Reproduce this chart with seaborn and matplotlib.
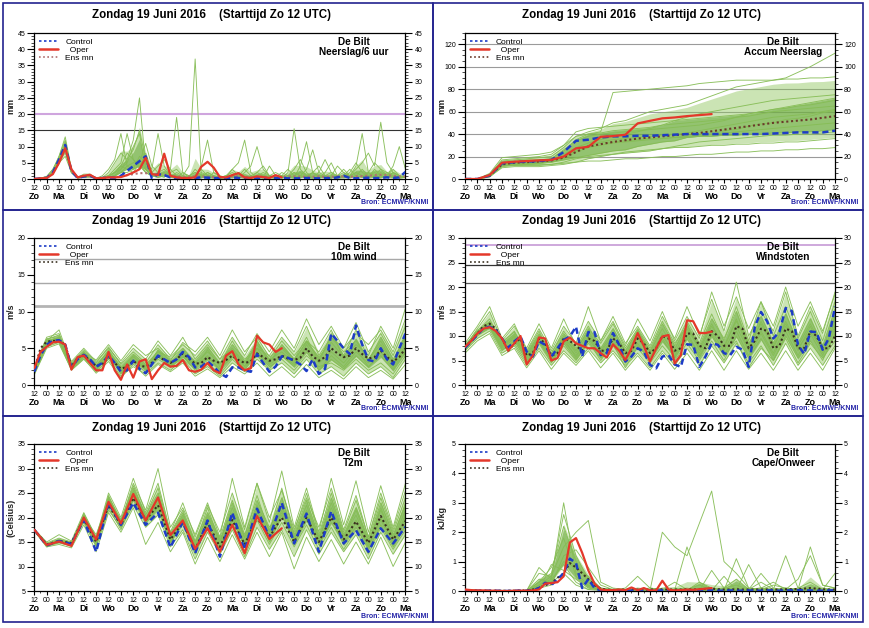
import numpy as np
import pandas as pd
import matplotlib
matplotlib.use("Agg")
import matplotlib.pyplot as plt
import seaborn as sns
from matplotlib.lines import Line2D
from matplotlib.patches import Rectangle
from matplotlib.ticker import MultipleLocator

# ---------------------------------------------------------------- labels
TITLE = "Zondag 19 Juni 2016    (Starttijd Zo 12 UTC)"
HOUR_LABELS = ['12', '00'] * 15 + ['12']
DAY_LABELS = ['Zo', 'Ma', 'Di', 'Wo', 'Do', 'Vr', 'Za', 'Zo',
              'Ma', 'Di', 'Wo', 'Do', 'Vr', 'Za', 'Zo', 'Ma']
LEGEND_LABELS = ['Control', '  Oper', 'Ens mn']
SOURCE = "Bron: ECMWF/KNMI"

# ---------------------------------------------------------------- precipitation per 6 h (6-hourly values)
PRECIP_OPER = [0, 0.2, 0.3, 1.5, 5, 9.5, 3, 0.5, 1.0, 1.3,
               0.2, 0.3, 0.5, 0.5, 0.6, 1.2, 2.0, 3.0, 6.5, 1.5,
               1.2, 7.8, 1.0, 0.5, 0.3, 0.3, 0.5, 3.8, 5.3, 3.5,
               0.6, 0.5, 1.2, 1.8, 0.5, 0.3, 0.8, 0.6, 0.3, 1.2,
               0.5]
PRECIP_CONTROL = [0, 0.2, 0.3, 2, 6, 10.5, 2.5, 0.3, 0.8, 1.0,
                  0.2, 0.3, 0.4, 0.4, 1.0, 2.5, 4, 5.5, 7.0, 0.2,
                  1.5, 1.2, 0.5, 0.3, 0.2, 0.2, 0.3, 0.5, 0.4, 0.3,
                  0.2, 0.2, 0.5, 0.3, 0.2, 0.3, 0.2, 0.3, 0.2, 0.2,
                  0.3, 0.2, 0.2, 0.2, 0.3, 0.2, 0.2, 0.3, 0.2, 0.5,
                  1.0, 0.3, 0.2, 0.3, 0.4, 0.3, 0.3, 0.5, 0.3, 0.5,
                  2.2]
PRECIP_ENSMN = [0, 0.2, 0.5, 2, 5, 9.5, 2.5, 0.5, 0.8, 0.9,
                0.3, 0.3, 0.5, 0.6, 0.8, 1.2, 1.5, 1.8, 1.8, 1.6,
                1.5, 1.3, 1.0, 0.8, 0.7, 0.7, 0.8, 0.8, 0.7, 0.6,
                0.6, 0.6, 0.8, 0.8, 0.7, 0.6, 0.7, 0.7, 0.6, 0.6,
                0.7, 0.8, 0.8, 0.7, 0.7, 0.7, 0.8, 0.7, 0.7, 0.8,
                0.8, 0.7, 0.8, 0.9, 1.0, 1.2, 1.3, 1.2, 1.0, 0.8,
                0.8]
PRECIP_MEMBERS = [
    [0, 0.3, 0.5, 2, 6, 11, 3, 0.5, 1, 1.2,
     0.2, 0.3, 0.5, 1, 2, 4, 5, 6, 3, 1,
     2, 3, 1, 0.5, 1, 4, 37, 1, 0.5, 1,
     0.5, 0.3, 1, 2, 0.5, 0.3, 1, 0.5, 0.3, 0.5,
     1, 0.5, 2, 1, 0.5, 0.3, 0.5, 1, 2, 0.5,
     0.3, 0.5, 1, 0.5, 0.3, 0.5, 2, 1, 0.5, 0.3,
     0.5],
    [0, 0.2, 0.8, 3, 7, 12, 2, 0.3, 0.8, 1,
     0.3, 0.5, 1, 2, 3, 6, 12, 25, 4, 1.5,
     1, 2, 0.5, 0.3, 0.5, 1, 2, 1, 0.5, 0.3,
     0.2, 0.5, 3, 1, 0.5, 0.3, 2, 4, 1, 0.5,
     0.3, 1, 3, 6, 2, 0.5, 0.3, 1, 0.5, 0.3,
     1, 3, 1, 0.5, 2, 5, 3, 1, 4, 10,
     3],
    [0, 0.1, 0.4, 1.5, 5, 9, 2.5, 0.5, 1.5, 1.5,
     0.3, 0.4, 2, 5, 8, 6, 9, 15, 6, 2,
     4, 6, 3, 19, 2, 0.5, 1, 3, 1, 0.5,
     0.3, 0.5, 1, 0.5, 0.3, 1, 0.5, 0.3, 1, 2,
     1, 0.5, 0.3, 1, 0.5, 2, 4, 1, 0.5, 0.3,
     0.5, 1, 2, 1, 0.5, 1, 3, 2, 1, 0.5,
     1],
    [0, 0.2, 0.6, 2.5, 7, 13, 3, 0.4, 1, 1,
     0.2, 1, 3, 6, 14, 4, 3, 7, 5, 3,
     14, 4, 1, 0.5, 0.3, 1, 2, 0.5, 0.3, 2,
     1, 0.5, 0.3, 1, 3, 1, 0.5, 0.3, 4, 1,
     0.5, 0.3, 1, 2, 1, 0.5, 0.3, 2, 5, 1,
     0.5, 0.3, 1, 3, 1, 0.5, 0.3, 1, 0.5, 1,
     0.5],
    [0, 0.2, 0.5, 2, 5.5, 10, 2, 0.5, 0.8, 0.8,
     0.2, 0.3, 1, 3, 5, 14, 6, 3, 8, 2,
     1, 0.5, 3, 1, 0.5, 0.5, 1, 4, 12, 2,
     0.5, 1, 2, 1, 0.5, 0.3, 1, 2, 1, 0.5,
     1, 3, 1, 0.5, 1, 2, 0.5, 0.3, 1, 4,
     2, 0.5, 1, 0.5, 1, 2, 1, 0.5, 0.3, 0.5,
     1],
    [0, 0.2, 0.5, 2, 6, 8, 2, 0.3, 0.5, 0.7,
     0.1, 0.2, 0.5, 1, 2, 3, 4, 5, 2, 1,
     0.5, 1, 2, 3, 1, 0.5, 0.3, 1, 2, 1,
     0.5, 1, 3, 5, 12, 2, 0.5, 1, 0.5, 0.3,
     0.5, 1, 2, 1, 3, 9, 2, 1, 0.5, 0.3,
     0.5, 1, 2, 1, 0.5, 3, 1, 0.5, 2, 1,
     0.5],
    [0, 0.3, 0.7, 3, 6.5, 10, 2.5, 0.5, 1, 1,
     0.2, 0.3, 0.8, 2, 4, 8, 6, 4, 3, 1,
     2, 1, 0.5, 2, 1, 0.5, 1, 0.5, 2, 1,
     0.5, 0.3, 1, 0.5, 2, 4, 10, 3, 1, 0.5,
     0.3, 2, 15.5, 3, 1, 0.5, 0.3, 1, 0.5, 1,
     3, 1, 0.5, 1, 2, 1, 0.5, 1, 3, 1,
     0.5],
    [0, 0.2, 0.4, 1.8, 5, 9, 2, 0.3, 0.6, 0.6,
     0.2, 0.3, 0.5, 1, 3, 5, 10, 14, 3, 1,
     0.5, 1, 0.5, 0.3, 2, 1, 0.5, 0.3, 1, 0.5,
     0.3, 1, 0.5, 2, 1, 0.5, 0.3, 0.5, 1, 0.5,
     2, 1, 0.5, 4, 11.5, 2, 1, 0.5, 0.3, 1,
     0.5, 2, 5, 2, 1, 0.5, 1, 2, 0.5, 0.3,
     0.5],
    [0, 0.2, 0.6, 2.2, 6, 11.5, 3, 0.5, 1, 1,
     0.3, 0.5, 1, 2, 4, 3, 2, 5, 11, 4,
     2, 1, 0.5, 1, 0.5, 0.3, 1, 2, 1, 0.5,
     0.3, 0.5, 1, 0.5, 0.3, 1, 2, 1, 0.5, 0.3,
     0.5, 1, 0.5, 0.3, 1, 0.5, 2, 6, 2, 1,
     0.5, 1, 3, 5, 8, 4, 17.5, 5, 2, 1,
     0.5],
    [0, 0.2, 0.5, 2, 5, 7, 2, 0.4, 0.8, 0.9,
     0.2, 0.3, 0.5, 1, 2, 2, 3, 4, 2, 1,
     1, 2, 1, 0.5, 0.3, 0.5, 3, 1, 0.5, 0.3,
     0.5, 0.3, 0.5, 1, 0.5, 0.3, 0.5, 1, 0.5, 0.3,
     1, 0.5, 0.3, 1, 0.5, 0.3, 1, 0.5, 0.3, 1,
     2, 1, 4, 14, 2, 1, 0.5, 1, 2, 1,
     0.5],
]

# ---------------------------------------------------------------- accumulated precipitation (12-hourly)
ACCUM_OPER = [0, 0, 3.5, 14.5, 15.4, 16, 16.6, 17, 20, 27.3, 28.7, 37.6, 38.2,
              39.4, 49.5, 51.8, 54, 54.8, 56, 56.9, 57.8]
ACCUM_CONTROL = [0, 0, 3, 14, 15, 15.5, 16, 17, 24, 34, 35, 37, 38, 38, 38.5,
                 38.5, 39, 39.5, 40, 40, 40, 40, 40, 40, 40, 40.5, 41, 41.5,
                 41.5, 41.5, 43]
ACCUM_ENSMN = [0, 0, 3, 13, 14.5, 15, 15.5, 16.5, 19, 24, 29, 31, 33, 34.5, 36,
               37, 38, 39, 40, 41, 42.5, 44, 45.5, 47, 48.5, 50, 51, 52, 53,
               54.5, 56]
ACCUM_MEMBERS = [
    [0, 0, 4, 16, 17, 18, 19, 20, 28, 38, 42, 45, 50, 52, 56, 60, 62, 64, 66, 70, 74, 78, 82, 84, 86, 88, 90, 95, 100, 106, 112],
    [0, 0, 3, 14, 15, 16, 17, 18, 25, 35, 40, 42, 77, 78, 79, 80, 81, 82, 83, 85, 86, 87, 88, 88, 88, 88, 89, 89, 90, 90, 91],
    [0, 0, 5, 19, 20, 21, 22, 24, 30, 38, 40, 41, 43, 44, 45, 46, 48, 49, 50, 51, 52, 53, 55, 56, 58, 60, 61, 62, 63, 64, 65],
    [0, 0, 3, 13, 14, 14, 15, 16, 22, 28, 32, 35, 38, 40, 42, 45, 48, 52, 55, 58, 60, 62, 64, 66, 68, 70, 71, 72, 73, 74, 75],
    [0, 0, 2, 12, 13, 13, 14, 15, 18, 24, 28, 30, 32, 33, 34, 35, 36, 37, 38, 39, 40, 41, 42, 43, 44, 45, 46, 47, 48, 49, 50],
    [0, 0, 4, 15, 16, 17, 17, 18, 26, 34, 38, 40, 41, 42, 43, 44, 45, 46, 47, 48, 50, 52, 55, 58, 60, 62, 63, 65, 66, 68, 70],
    [0, 0, 2, 11, 12, 12, 12, 13, 15, 18, 20, 21, 22, 24, 25, 26, 27, 28, 28, 29, 30, 30, 31, 31, 32, 32, 33, 33, 34, 35, 36],
    [0, 0, 3, 13, 13, 14, 14, 15, 17, 19, 21, 23, 25, 26, 29, 31, 33, 34, 37, 38, 40, 43, 44, 47, 49, 50, 53, 54, 56, 59, 61],
    [0, 0, 3, 12, 12, 13, 13, 13, 14, 15, 16, 16, 17, 18, 18, 19, 20, 20, 21, 22, 22, 23, 24, 24, 25, 25, 26, 26, 27, 27, 28],
    [0, 0, 4, 17, 18, 19, 20, 22, 30, 42, 45, 46, 47, 48, 49, 50, 51, 52, 53, 54, 55, 56, 57, 58, 60, 62, 64, 66, 68, 70, 72],
    [0, 0, 3, 14, 15, 15, 16, 17, 20, 26, 30, 33, 35, 36, 37, 38, 39, 40, 41, 43, 45, 47, 49, 51, 53, 55, 56, 57, 58, 60, 62],
    [0, 0, 2, 10, 11, 11, 11, 12, 13, 15, 18, 20, 22, 23, 24, 25, 27, 29, 31, 33, 34, 35, 36, 37, 38, 39, 39, 40, 40, 41, 42],
    [0, 0, 3, 14, 15, 15, 16, 16, 19, 25, 30, 32, 33, 34, 35, 36, 36, 37, 37, 38, 38, 39, 39, 40, 40, 41, 41, 42, 42, 43, 44],
]

# ---------------------------------------------------------------- 10 m wind (main 6-hourly, members 12-hourly)
WIND_OPER = [2.3, 4.5, 5.2, 5.8, 5.9, 5.5, 2.1, 3.8, 4.0, 3.0,
             2.0, 2.0, 4.5, 2.0, 0.7, 2.8, 1.0, 3.2, 3.5, 0.8,
             2.0, 3.0, 2.5, 2.6, 3.4, 2.0, 1.8, 2.1, 3.0, 2.0,
             1.6, 4.0, 4.6, 2.8, 2.0, 2.3, 6.7, 5.8, 5.5, 4.5,
             5.0]
WIND_CONTROL = [1.8, 4.0, 5.5, 6.0, 6.1, 5.5, 2.4, 3.5, 4.1, 3.5,
                2.5, 3.0, 4.0, 3.0, 1.8, 2.0, 3.3, 2.2, 1.6, 2.8,
                4.0, 3.5, 3.0, 3.5, 4.5, 3.8, 2.4, 2.5, 3.2, 2.5,
                1.6, 1.1, 2.4, 2.4, 2.0, 1.8, 4.2, 3.0, 1.8, 2.5,
                3.9, 3.7, 3.3, 2.8, 1.9, 3.5, 1.5, 2.2, 7.0, 6.0,
                5.0, 4.2, 8.1, 5.5, 3.4, 3.2, 5.0, 3.5, 2.8, 5.0,
                7.0]
WIND_ENSMN = [2, 5, 5.9, 6, 6, 5.5, 2.5, 3.7, 4.1, 3.3,
              2.6, 2.8, 3.8, 3.0, 2.2, 2.5, 3.3, 2.6, 2.5, 3.0,
              3.9, 3.4, 3.0, 3.5, 4.3, 3.6, 2.9, 3.0, 3.8, 3.3,
              3.0, 3.4, 4.0, 3.4, 3.0, 3.2, 4.3, 3.8, 3.3, 3.5,
              4.0, 3.6, 3.4, 3.7, 5.0, 3.9, 3.3, 3.8, 5.0, 4.3,
              3.8, 4.0, 5.0, 4.2, 3.6, 3.8, 4.7, 3.8, 3.2, 3.8,
              5.0]
WIND_MEMBERS = [
    [2.0, 6.0, 6.5, 2.5, 4.5, 2.5, 4.8, 2.0, 3.5, 2.5, 4.0, 3.0, 4.5, 2.5, 4.0, 2.0, 5.0, 2.5, 6.0, 3.0, 5.5, 3.5, 6.5, 3.0, 7.0, 4.0, 7.5, 3.5, 6.0, 3.0, 6.0],
    [1.5, 5.5, 6.0, 2.2, 3.8, 2.0, 4.0, 1.5, 3.0, 1.8, 3.5, 2.5, 4.0, 2.0, 3.0, 1.5, 3.5, 2.0, 4.5, 2.5, 3.5, 2.0, 4.0, 2.5, 3.0, 2.0, 3.5, 2.0, 3.0, 1.5, 4.0],
    [2.5, 6.5, 7.0, 3.0, 4.8, 3.0, 5.2, 2.8, 4.5, 3.0, 5.5, 3.5, 5.0, 3.0, 4.5, 3.0, 5.5, 3.5, 5.0, 4.0, 6.5, 4.5, 8.0, 4.0, 6.5, 5.0, 8.5, 4.5, 7.0, 4.0, 8.0],
    [1.8, 5.8, 6.2, 2.6, 4.2, 2.8, 4.5, 2.2, 4.0, 2.0, 4.8, 3.2, 4.2, 2.8, 3.5, 3.0, 4.5, 3.0, 5.5, 3.5, 4.5, 3.0, 5.0, 2.0, 4.0, 2.5, 4.5, 3.0, 5.0, 2.5, 5.5],
    [2.2, 6.2, 6.8, 3.2, 5.0, 3.2, 5.0, 3.0, 5.0, 3.5, 6.0, 4.0, 6.5, 3.5, 5.5, 3.5, 6.5, 4.0, 7.0, 4.5, 7.5, 5.0, 9.0, 5.5, 8.0, 5.0, 7.0, 5.5, 7.5, 4.5, 9.0],
    [1.6, 5.2, 5.8, 2.0, 3.5, 1.8, 3.5, 1.2, 2.5, 1.5, 3.0, 2.0, 3.5, 1.5, 2.5, 1.2, 3.0, 1.8, 3.5, 2.0, 3.0, 1.5, 3.5, 1.5, 2.5, 1.2, 3.0, 1.5, 2.5, 1.0, 3.5],
    [2.0, 6.0, 7.5, 2.8, 4.6, 2.6, 4.6, 2.5, 4.2, 2.8, 4.5, 3.8, 5.5, 4.0, 6.0, 3.5, 5.0, 3.0, 4.0, 3.5, 6.0, 4.0, 6.0, 3.5, 6.5, 4.5, 6.0, 3.5, 5.5, 3.0, 7.0],
    [1.7, 5.6, 6.0, 2.4, 4.0, 2.4, 4.2, 1.8, 3.2, 2.2, 3.8, 2.8, 3.5, 2.2, 4.8, 2.5, 4.0, 2.2, 5.0, 2.8, 4.0, 2.5, 5.5, 3.0, 4.5, 3.0, 5.0, 2.5, 4.0, 2.0, 4.5],
    [2.3, 6.3, 6.6, 2.9, 4.4, 3.4, 5.5, 3.3, 5.5, 4.0, 5.0, 3.3, 5.8, 4.5, 6.5, 4.0, 7.5, 4.5, 6.5, 3.8, 5.0, 3.2, 6.0, 4.5, 7.5, 3.5, 5.5, 4.0, 8.0, 5.0, 10.5],
    [1.9, 5.9, 6.4, 2.3, 3.9, 2.2, 3.8, 2.0, 3.8, 2.6, 4.2, 2.4, 3.8, 2.6, 3.8, 2.2, 3.8, 2.6, 4.0, 2.2, 4.0, 2.8, 4.5, 2.0, 3.5, 2.2, 4.0, 2.4, 4.5, 2.2, 5.0],
    [2.1, 6.1, 6.3, 2.7, 4.3, 2.0, 4.4, 1.6, 3.4, 2.4, 4.6, 2.6, 4.6, 3.2, 5.2, 2.8, 6.0, 3.2, 6.0, 3.0, 5.2, 3.5, 5.8, 3.8, 5.8, 3.8, 6.2, 3.2, 6.5, 3.5, 6.5],
    [1.4, 5.0, 5.6, 2.1, 3.6, 1.6, 3.2, 1.0, 2.8, 1.2, 2.8, 1.8, 3.0, 1.2, 2.2, 1.0, 2.5, 1.5, 3.0, 1.2, 2.5, 1.0, 2.8, 1.0, 2.0, 0.8, 2.5, 1.0, 2.0, 0.8, 2.8],
]

# ---------------------------------------------------------------- wind gusts
GUST_OPER = [7.8, 9.0, 10.5, 11.5, 11.8, 11.0, 9.5, 7.0, 8.5, 10.0,
             4.2, 6.0, 9.7, 9.5, 5.0, 5.5, 8.9, 9.7, 8.5, 8.0,
             7.5, 7.5, 6.5, 5.6, 8.3, 7.0, 5.1, 7.5, 10.6, 8.0,
             4.8, 7.5, 9.9, 10.2, 4.4, 6.1, 13.2, 13.0, 10.6, 10.6,
             10.9]
GUST_CONTROL = [7.6, 8.9, 10.2, 11.6, 11.9, 11.2, 9.5, 7.6, 8.9, 9.9,
                6.8, 5.8, 8.9, 8.2, 5.8, 7.5, 9.2, 9.9, 11.9, 5.8,
                10.8, 10.8, 6.1, 6.5, 10.6, 8.2, 4.8, 5.8, 7.5, 6.8,
                4.1, 3.4, 5.8, 6.1, 4.2, 3.7, 8.3, 8.2, 3.7, 5.8,
                8.5, 8.2, 6.5, 6.1, 7.8, 7.2, 3.7, 11.9, 14.9, 13.0,
                9.5, 10.9, 15.7, 15.1, 8.2, 6.3, 10.9, 10.8, 7.2, 9.5,
                16.0]
GUST_ENSMN = [7.8, 9, 10.5, 12, 12.5, 11.5, 9.5, 7.0, 8.5, 9.5,
              6.0, 6.5, 9.5, 8.5, 6.0, 6.5, 9.5, 9.0, 8.0, 7.0,
              9.5, 9.0, 7.0, 7.0, 9.5, 8.5, 6.5, 7.0, 9.5, 8.5,
              6.5, 7.5, 10.0, 9.5, 7.0, 7.5, 10.5, 10.5, 8.0, 7.5,
              11.0, 10.0, 8.0, 8.0, 12.0, 11.5, 7.5, 9.0, 11.5, 11.0,
              7.5, 8.0, 11.5, 11.0, 7.5, 7.5, 11.0, 10.0, 7.5, 7.5,
              10.0]
GUST_MEMBERS = [
    [7.5, 10.5, 12.0, 7.5, 9.5, 5.5, 9.0, 5.0, 9.0, 6.0, 9.5, 6.0, 9.0, 5.0, 8.5, 5.0, 9.0, 6.0, 10.0, 6.5, 11.0, 7.0, 12.0, 7.0, 13.0, 8.0, 12.5, 7.5, 11.0, 7.0, 12.0],
    [8.0, 11.0, 13.5, 8.5, 11.0, 6.5, 10.5, 6.5, 11.0, 7.5, 12.0, 7.5, 11.5, 7.0, 11.0, 7.0, 12.5, 8.0, 13.0, 8.5, 14.5, 9.0, 16.0, 9.0, 17.0, 10.0, 16.0, 9.5, 15.0, 9.0, 17.0],
    [7.0, 9.5, 11.0, 6.5, 8.0, 4.0, 7.5, 4.0, 7.0, 4.5, 7.5, 4.5, 7.0, 4.0, 6.5, 3.5, 7.0, 4.0, 7.5, 4.0, 8.0, 4.5, 8.5, 4.5, 8.0, 4.0, 8.5, 4.0, 7.5, 4.0, 8.0],
    [8.2, 10.8, 12.5, 8.0, 10.0, 6.0, 9.8, 5.8, 10.0, 6.5, 10.5, 6.8, 10.0, 6.2, 10.5, 6.5, 10.0, 6.5, 11.5, 7.5, 12.5, 7.5, 13.5, 7.0, 11.0, 6.5, 12.0, 7.0, 12.0, 6.5, 13.0],
    [7.8, 11.5, 15.0, 9.0, 12.0, 7.5, 12.5, 7.5, 13.5, 8.0, 13.0, 9.0, 14.0, 8.5, 12.0, 8.0, 14.0, 9.5, 16.0, 10.0, 17.5, 11.0, 21.0, 10.0, 15.0, 11.0, 19.0, 10.0, 16.0, 10.5, 19.0],
    [7.3, 10.2, 11.5, 7.0, 9.0, 5.0, 8.5, 4.5, 8.0, 5.0, 8.5, 5.5, 8.0, 4.5, 7.5, 4.5, 8.0, 5.0, 8.5, 5.0, 9.0, 5.0, 10.0, 5.5, 9.5, 5.0, 10.0, 5.5, 9.0, 5.0, 10.5],
    [8.0, 11.2, 12.8, 8.8, 10.8, 6.8, 11.0, 6.0, 9.5, 7.0, 11.5, 8.5, 12.5, 7.5, 11.5, 7.5, 13.0, 8.5, 12.0, 8.0, 13.5, 9.5, 15.0, 8.0, 14.0, 8.5, 14.5, 8.5, 13.5, 8.0, 15.5],
    [7.6, 10.6, 12.2, 7.8, 9.8, 5.8, 9.2, 5.4, 9.6, 5.6, 10.0, 6.2, 9.5, 5.6, 9.8, 5.6, 10.5, 5.8, 10.8, 6.0, 10.0, 6.0, 11.0, 6.0, 10.5, 6.0, 11.0, 6.0, 10.5, 6.0, 11.5],
    [8.5, 12.0, 16.0, 9.5, 12.5, 7.0, 11.5, 7.0, 12.0, 8.5, 16.0, 9.0, 13.0, 8.0, 13.5, 9.0, 15.0, 9.0, 14.0, 9.5, 19.0, 12.0, 18.0, 11.5, 17.0, 12.0, 20.0, 12.0, 17.0, 11.0, 18.5],
    [7.2, 10.0, 11.8, 7.2, 8.5, 4.5, 8.8, 4.8, 8.5, 5.2, 9.0, 5.0, 8.5, 3.5, 8.0, 5.5, 9.5, 5.5, 9.5, 5.5, 10.5, 6.0, 9.0, 3.5, 7.5, 5.0, 9.5, 4.5, 8.5, 5.5, 9.0],
    [7.9, 10.9, 13.0, 8.3, 10.3, 6.3, 10.2, 6.5, 10.5, 7.2, 11.0, 7.0, 10.8, 6.8, 11.2, 6.8, 11.5, 7.2, 12.5, 7.0, 12.0, 8.0, 13.0, 8.5, 12.5, 7.5, 13.0, 8.0, 12.5, 7.5, 14.0],
    [6.5, 9.0, 10.5, 6.0, 7.5, 3.5, 7.0, 3.2, 6.5, 4.0, 7.0, 3.5, 6.5, 3.0, 6.0, 3.0, 6.5, 3.2, 6.5, 3.0, 7.0, 3.0, 7.0, 3.2, 6.5, 3.0, 7.0, 3.0, 6.5, 3.0, 7.5],
]

# ---------------------------------------------------------------- 2 m temperature (12-hourly)
T2M_OPER = [17.5, 14.4, 15.1, 14.2, 20.0, 15.5, 23.2, 18.8, 24.8, 19.4, 24.1,
            16.4, 19.4, 13.6, 17.8, 13.0, 18.5, 12.7, 20.3, 15.6, 17.8]
T2M_CONTROL = [17.5, 14.3, 15.2, 14.6, 19.5, 13.0, 23.0, 18.5, 23.0, 18.5,
               21.0, 13.9, 19.1, 12.7, 19.4, 12.0, 21.0, 13.4, 21.8, 15.9,
               23.0, 14.7, 20.8, 13.0, 21.3, 14.7, 17.4, 13.0, 17.8, 14.7,
               18.1]
T2M_ENSMN = [17.5, 14.5, 15.2, 14.8, 19.8, 15.0, 22.5, 18.5, 24.0, 19.5,
             22.5, 15.5, 19.0, 13.5, 19.0, 14.0, 19.5, 14.5, 20.0, 16.0,
             20.0, 15.0, 20.0, 15.0, 20.0, 15.5, 19.2, 14.8, 20.3, 15.5,
             19.3]
T2M_MEMBERS = [
    [17.5, 14.0, 15.5, 14.5, 20.5, 15.5, 24.5, 19.0, 26.5, 20.5, 25.0, 16.5, 21.0, 14.5, 22.0, 15.0, 23.0, 16.0, 24.5, 17.0, 26.0, 16.5, 23.5, 16.0, 24.0, 16.5, 22.0, 15.5, 23.0, 16.5, 22.5],
    [17.3, 14.6, 15.0, 15.0, 19.0, 14.0, 21.5, 18.0, 22.5, 18.0, 20.5, 14.0, 17.5, 11.5, 17.0, 12.5, 17.5, 12.0, 18.0, 13.5, 17.5, 12.0, 17.5, 12.5, 17.0, 13.0, 16.5, 11.5, 17.0, 12.5, 16.5],
    [17.6, 15.0, 16.5, 15.2, 21.0, 16.0, 25.0, 20.0, 28.0, 21.0, 27.0, 17.0, 23.0, 16.0, 22.5, 17.0, 25.0, 17.5, 27.0, 19.0, 29.5, 18.0, 26.0, 17.0, 28.0, 18.5, 27.5, 17.0, 26.5, 18.0, 27.0],
    [17.4, 14.2, 14.8, 14.2, 19.5, 15.0, 22.5, 18.5, 24.0, 19.0, 22.0, 15.0, 18.5, 13.0, 18.0, 14.0, 19.5, 14.5, 20.5, 15.5, 21.5, 14.5, 21.0, 14.5, 20.5, 14.5, 19.0, 14.0, 20.0, 15.0, 20.5],
    [17.5, 14.8, 15.8, 15.0, 20.0, 16.5, 23.5, 19.5, 25.5, 20.0, 24.0, 16.0, 20.5, 15.0, 20.0, 15.5, 21.0, 15.0, 22.0, 16.5, 22.5, 16.0, 22.5, 15.5, 23.0, 16.0, 21.5, 15.0, 21.5, 16.0, 23.0],
    [17.2, 14.0, 14.5, 13.8, 18.5, 13.0, 21.0, 17.0, 22.0, 14.5, 19.0, 13.0, 17.0, 10.5, 16.0, 11.0, 16.5, 11.5, 17.0, 12.0, 17.0, 9.5, 16.0, 11.0, 15.5, 10.5, 15.0, 10.5, 16.0, 10.0, 15.0],
    [17.6, 14.4, 15.3, 14.6, 20.8, 15.8, 24.0, 19.2, 27.0, 21.5, 30.0, 18.0, 22.0, 16.5, 23.0, 16.0, 28.0, 18.0, 27.0, 20.0, 25.5, 17.5, 24.0, 18.0, 26.0, 17.5, 24.5, 16.0, 25.0, 17.5, 25.5],
    [17.4, 14.5, 15.0, 14.5, 19.8, 14.5, 23.0, 18.0, 24.5, 19.5, 23.0, 15.5, 19.5, 14.0, 19.0, 13.5, 20.0, 14.0, 21.0, 15.0, 20.5, 15.0, 19.5, 14.5, 19.0, 15.0, 18.0, 13.5, 18.5, 14.0, 18.5],
    [17.5, 14.7, 15.6, 14.9, 20.2, 15.2, 23.8, 19.0, 25.0, 19.8, 23.5, 16.2, 20.0, 14.2, 20.5, 14.8, 22.0, 15.8, 22.5, 17.5, 24.0, 15.5, 21.5, 15.8, 22.0, 16.2, 20.5, 14.5, 22.0, 15.5, 21.5],
    [17.3, 14.3, 14.9, 14.4, 19.2, 14.2, 22.0, 17.5, 23.5, 18.8, 21.5, 14.8, 18.8, 12.5, 18.5, 13.0, 19.0, 13.2, 19.5, 14.5, 19.0, 14.0, 18.5, 13.5, 18.0, 13.5, 17.5, 12.5, 18.0, 13.5, 17.5],
    [17.5, 14.6, 15.4, 14.8, 20.4, 15.6, 24.2, 19.6, 26.0, 20.5, 26.0, 16.8, 21.5, 15.2, 21.0, 15.8, 23.5, 16.5, 23.5, 18.0, 22.0, 17.0, 25.0, 16.5, 25.0, 17.0, 23.5, 16.0, 24.0, 17.0, 24.0],
    [17.4, 14.4, 15.1, 14.3, 19.6, 14.8, 22.8, 18.2, 24.2, 19.2, 22.5, 15.2, 19.2, 13.5, 18.8, 14.2, 20.5, 14.8, 21.5, 15.8, 21.0, 15.5, 20.5, 15.0, 21.0, 15.5, 19.5, 14.0, 19.5, 14.5, 19.8],
]

# ---------------------------------------------------------------- CAPE (main 6-hourly, members 12-hourly)
CAPE_OPER = [0.05, 0.03, 0.02, 0.02, 0.01, 0.01, 0.0, 0.0, 0.01, 0.01,
             0.01, 0.02, 0.05, 0.25, 0.27, 0.3, 0.5, 1.65, 1.8, 1.3,
             0.7, 0.25, 0.05, 0.03, 0.03, 0.05, 0.03, 0.12, 0.03, 0.1,
             0.02, 0.02, 0.35, 0.05, 0.02, 0.03, 0.05, 0.04, 0.06, 0.08,
             0.1]
CAPE_CONTROL = [0.03, 0.02, 0.01, 0.01, 0.01, 0.01, 0.0, 0.0, 0.01, 0.01,
                0.01, 0.02, 0.1, 0.28, 0.2, 0.4, 0.6, 1.1, 0.95, 0.1,
                0.4, 0.1, 0.02, 0.01, 0.01, 0.01, 0.01, 0.01, 0.02, 0.01,
                0.01, 0.01, 0.02, 0.01, 0.01, 0.01, 0.02, 0.01, 0.01, 0.02,
                0.02, 0.01, 0.01, 0.02, 0.01, 0.01, 0.02, 0.01, 0.01, 0.02,
                0.02, 0.01, 0.02, 0.02, 0.03, 0.02, 0.02, 0.01, 0.01, 0.02,
                0.02]
CAPE_ENSMN = [0.03, 0.02, 0.02, 0.01, 0.01, 0.01, 0.01, 0.01, 0.01, 0.02,
              0.02, 0.05, 0.1, 0.2, 0.25, 0.45, 0.6, 0.95, 0.8, 0.6,
              0.4, 0.2, 0.08, 0.05, 0.04, 0.04, 0.05, 0.05, 0.05, 0.04,
              0.05, 0.05, 0.06, 0.05, 0.05, 0.05, 0.06, 0.05, 0.06, 0.07,
              0.08, 0.06, 0.05, 0.05, 0.06, 0.05, 0.05, 0.05, 0.05, 0.05,
              0.05, 0.05, 0.06, 0.06, 0.07, 0.08, 0.1, 0.08, 0.06, 0.05,
              0.05]
CAPE_MEMBERS = [
    [0.05, 0.02, 0.01, 0.01, 0.01, 0.02, 0.3, 0.6, 2.2, 1.0, 0.3, 0.05, 0.02, 0.01, 0.02, 0.03, 0.05, 0.02, 0.01, 0.02, 0.05, 0.02, 0.01, 0.02, 0.03, 0.02, 0.05, 0.02, 0.03, 0.02, 0.05],
    [0.03, 0.02, 0.02, 0.01, 0.01, 0.01, 0.8, 0.4, 3.0, 0.6, 0.2, 0.03, 0.02, 0.03, 0.05, 0.02, 0.03, 0.05, 0.1, 0.03, 0.02, 0.01, 0.02, 0.05, 0.1, 0.03, 0.02, 0.05, 0.1, 0.03, 0.02],
    [0.02, 0.01, 0.01, 0.01, 0.02, 0.01, 0.2, 0.5, 1.5, 2.0, 2.4, 0.3, 0.1, 0.05, 0.02, 0.01, 0.02, 0.02, 0.05, 0.02, 0.03, 0.05, 0.02, 0.05, 0.3, 0.05, 0.02, 0.03, 0.1, 0.05, 0.02],
    [0.04, 0.02, 0.01, 0.02, 0.01, 0.01, 0.4, 0.3, 1.0, 0.8, 0.5, 0.1, 0.03, 0.02, 0.05, 0.02, 2.0, 1.5, 1.2, 2.3, 3.4, 1.0, 0.6, 0.1, 0.05, 0.2, 0.1, 0.05, 0.02, 0.05, 0.02],
    [0.02, 0.01, 0.01, 0.01, 0.01, 0.02, 0.1, 0.2, 1.2, 1.4, 0.8, 0.2, 0.05, 0.02, 0.05, 0.1, 0.05, 0.3, 0.05, 0.1, 0.05, 0.1, 0.2, 0.05, 0.1, 0.05, 1.2, 0.1, 0.05, 0.1, 0.05],
    [0.03, 0.02, 0.02, 0.02, 0.01, 0.01, 0.05, 0.9, 0.7, 0.4, 0.1, 0.02, 0.01, 0.02, 0.1, 0.05, 0.02, 0.03, 1.5, 0.3, 0.05, 0.1, 0.4, 0.05, 0.6, 0.1, 0.05, 0.05, 1.5, 0.2, 0.1],
    [0.02, 0.02, 0.01, 0.01, 0.02, 0.01, 0.3, 0.8, 1.8, 0.5, 0.15, 0.05, 0.02, 0.1, 0.5, 0.1, 0.05, 0.02, 0.05, 0.2, 0.05, 0.02, 1.1, 0.1, 0.05, 0.02, 0.05, 0.02, 0.02, 0.05, 0.6],
    [0.03, 0.01, 0.01, 0.01, 0.01, 0.01, 0.2, 0.4, 0.9, 0.3, 0.05, 0.1, 0.02, 0.05, 0.02, 0.02, 0.1, 0.1, 0.02, 0.05, 0.02, 0.5, 0.02, 0.9, 0.1, 0.3, 0.05, 0.4, 1.2, 0.2, 0.1],
    [0.02, 0.01, 0.01, 0.02, 0.01, 0.02, 0.6, 0.5, 2.6, 1.2, 0.4, 0.1, 0.05, 0.02, 0.02, 0.05, 0.02, 0.05, 0.02, 0.3, 0.1, 0.05, 0.1, 0.05, 0.02, 0.05, 0.02, 0.1, 0.3, 0.05, 0.02],
    [0.03, 0.02, 0.01, 0.01, 0.01, 0.01, 0.15, 0.3, 0.6, 0.2, 0.05, 0.02, 0.01, 0.02, 0.02, 0.01, 0.02, 0.01, 0.02, 0.02, 0.7, 0.1, 0.05, 0.02, 0.05, 0.02, 0.1, 0.05, 0.05, 0.02, 0.05],
]

# ---------------------------------------------------------------- style
sns.set_theme(style="ticks")
plt.rcParams["font.family"] = ["Liberation Sans", "DejaVu Sans"]
plt.rcParams.update({
    "axes.linewidth": 0.9,
    "axes.edgecolor": "black",
    "xtick.color": "black",
    "ytick.color": "black",
    "text.color": "black",
})

GREEN = "#86bd55"
CORE_OUT = "#8cc45a"
CORE = "#66a838"
BLUE = "#1d3cc6"
RED = "#e4382a"
FRAME = "#23238f"

FIG_W, FIG_H = 870, 628
fig = plt.figure(figsize=(FIG_W / 100, FIG_H / 100), dpi=100)
fig.patch.set_facecolor("white")


def px_axes(l, t, r, b):
    return fig.add_axes([l / FIG_W, 1 - b / FIG_H, (r - l) / FIG_W, (b - t) / FIG_H])


def members_frame(members, step):
    rows = []
    for k, m in enumerate(members):
        for i, v in enumerate(m):
            rows.append((k, i * step, v))
    return pd.DataFrame(rows, columns=["member", "hour", "value"])


PANELS = [
    dict(box=(34.3, 33, 405.5, 179), title=(212, 15), bron=(428, 203),
         ylim=(0, 45), major=5, minor=1, ylabel="mm", name="De Bilt\nNeerslag/6 uur",
         members=PRECIP_MEMBERS, mstep=6, oper=PRECIP_OPER, control=PRECIP_CONTROL,
         ensmn=PRECIP_ENSMN, step=6, ens_color="#b07070", outer=(10, 90),
         hlines=[(20, "#cfa5de", 1.5), (15, "#333333", 0.8)], grid=False),
    dict(box=(465, 33, 835, 179), title=(642, 15), bron=(858, 203),
         ylim=(0, 130), major=20, minor=5, ylabel="mm", name="De Bilt\nAccum Neerslag",
         members=ACCUM_MEMBERS, mstep=12, oper=ACCUM_OPER, control=ACCUM_CONTROL,
         ensmn=ACCUM_ENSMN, step=12, ens_color="#6a3a2a", outer=(10, 90),
         hlines=[], grid=True),
    dict(box=(34.3, 238, 405.5, 385), title=(212, 221), bron=(428, 409),
         ylim=(0, 20), major=5, minor=1, ylabel="m/s", name="De Bilt\n10m wind",
         members=WIND_MEMBERS, mstep=12, oper=WIND_OPER, control=WIND_CONTROL,
         ensmn=WIND_ENSMN, step=6, ens_color="#3a3020", outer=(10, 90),
         hlines=[(10.8, "#b4b4b4", 2.0), (13.9, "#a8a8a8", 1.0), (17.2, "#a8a8a8", 1.0)], grid=False),
    dict(box=(465, 238, 835, 385), title=(642, 221), bron=(858, 409),
         ylim=(0, 30), major=5, minor=1, ylabel="m/s", name="De Bilt\nWindstoten",
         members=GUST_MEMBERS, mstep=12, oper=GUST_OPER, control=GUST_CONTROL,
         ensmn=GUST_ENSMN, step=6, ens_color="#3a3020", outer=(10, 90),
         hlines=[(28.5, "#c69ad6", 1.2), (24.4, "#333333", 0.9), (20.8, "#555555", 0.9)], grid=False),
    dict(box=(34.3, 444, 405.5, 591), title=(212, 428), bron=(428, 617),
         ylim=(5, 35), major=5, minor=1, ylabel="(Celsius)", name="De Bilt\nT2m",
         members=T2M_MEMBERS, mstep=12, oper=T2M_OPER, control=T2M_CONTROL,
         ensmn=T2M_ENSMN, step=12, ens_color="#3a3020", outer=(10, 90),
         hlines=[], grid=False),
    dict(box=(465, 444, 835, 591), title=(642, 428), bron=(858, 617),
         ylim=(0, 5), major=1, minor=0.2, ylabel="kJ/kg", name="De Bilt\nCape/Onweer",
         members=CAPE_MEMBERS, mstep=12, oper=CAPE_OPER, control=CAPE_CONTROL,
         ensmn=CAPE_ENSMN, step=6, ens_color="#3a3020", outer=(20, 80),
         hlines=[], grid=False),
]

HOUR_TICKS = np.arange(0, 361, 12)
DAY_TICKS = np.arange(0, 361, 24)

for spec in PANELS:
    ax = px_axes(*spec["box"])
    ax.set_facecolor("white")

    for val, col, lw in spec["hlines"]:
        ax.axhline(val, color=col, lw=lw, zorder=1)
    if spec["grid"]:
        for val in np.arange(spec["major"], spec["ylim"][1], spec["major"]):
            ax.axhline(val, color="#9a9a9a", lw=0.8, zorder=1)

    # ensemble members: spread bands + individual lines
    mdf = members_frame(spec["members"], spec["mstep"])
    wide = mdf.pivot(index="hour", columns="member", values="value")
    hrs = wide.index.values
    p_lo, p_hi = spec["outer"]
    ax.fill_between(hrs, np.percentile(wide.values, p_lo, axis=1),
                    np.percentile(wide.values, p_hi, axis=1),
                    color=CORE_OUT, alpha=0.45, lw=0, zorder=2)
    ax.fill_between(hrs, np.percentile(wide.values, 25, axis=1),
                    np.percentile(wide.values, 75, axis=1),
                    color=CORE, alpha=0.55, lw=0, zorder=2.1)
    sns.lineplot(data=mdf, x="hour", y="value", units="member", estimator=None,
                 color=GREEN, linewidth=0.65, alpha=0.95, ax=ax, legend=False, zorder=2.5)

    # ensemble mean, control, operational
    ens = np.asarray(spec["ensmn"], dtype=float)
    ctl = np.asarray(spec["control"], dtype=float)
    opr = np.asarray(spec["oper"], dtype=float)
    sns.lineplot(x=np.arange(len(ens)) * spec["step"], y=ens, ax=ax, color=spec["ens_color"],
                 linewidth=1.5, linestyle=(0, (1, 1.3)), legend=False, zorder=4)
    sns.lineplot(x=np.arange(len(ctl)) * spec["step"], y=ctl, ax=ax, color=BLUE,
                 linewidth=1.8, linestyle=(0, (2.5, 1.5)), legend=False, zorder=5)
    sns.lineplot(x=np.arange(len(opr)) * spec["step"], y=opr, ax=ax, color=RED,
                 linewidth=1.6, legend=False, zorder=6)

    ax.set_xlim(0, 360)
    ax.set_ylim(*spec["ylim"])
    ax.set_xlabel("")
    ax.set_ylabel(spec["ylabel"], fontsize=6.5, fontweight="bold", labelpad=0)
    ax.yaxis.set_label_coords(-0.05, 0.5)

    ax.set_xticks(HOUR_TICKS)
    ax.set_xticklabels(HOUR_LABELS)
    ax.xaxis.set_minor_locator(MultipleLocator(6))
    ax.yaxis.set_major_locator(MultipleLocator(spec["major"]))
    ax.yaxis.set_minor_locator(MultipleLocator(spec["minor"]))
    ax.tick_params(axis="y", which="major", direction="out", length=5, width=0.8,
                   labelsize=5, left=True, right=True, labelleft=True, labelright=True, pad=1.5)
    ax.tick_params(axis="y", which="minor", direction="out", length=2.5, width=0.5,
                   left=True, right=True)
    ax.tick_params(axis="x", which="major", direction="out", length=3, width=0.8,
                   labelsize=5, pad=1.5, top=False)
    ax.tick_params(axis="x", which="minor", direction="out", length=1.5, width=0.5, top=False)
    for s in ax.spines.values():
        s.set_visible(True)
        s.set_linewidth(0.9)

    sec = ax.secondary_xaxis("bottom")
    sec.set_xticks(DAY_TICKS)
    sec.set_xticklabels(DAY_LABELS)
    sec.tick_params(length=0, pad=9.5, labelsize=6.5)
    for lab in sec.get_xticklabels():
        lab.set_fontweight("bold")
    sec.spines["bottom"].set_visible(False)

    handles = [Line2D([], [], color=BLUE, lw=1.2, linestyle=(0, (1.5, 1.5))),
               Line2D([], [], color=RED, lw=1.8),
               Line2D([], [], color=spec["ens_color"], lw=1.2, linestyle=(0, (1, 1.5)))]
    ax.legend(handles, LEGEND_LABELS, loc="upper left", frameon=False, fontsize=6,
              handlelength=2.3, handletextpad=0.8, labelspacing=0.02,
              borderaxespad=0.3, borderpad=0.3)

    ax.text(0.86, 0.975, spec["name"], transform=ax.transAxes, ha="center", va="top",
            fontsize=7.2, fontweight="bold", linespacing=1.05, zorder=10)

    fig.text(spec["title"][0] / FIG_W, 1 - spec["title"][1] / FIG_H, TITLE,
             ha="center", va="center", fontsize=8.3, fontweight="bold")
    fig.text(spec["bron"][0] / FIG_W, 1 - spec["bron"][1] / FIG_H, SOURCE,
             ha="right", va="center", fontsize=5, fontweight="bold", color="#2323a8")

# panel frames
for x0, x1 in [(3, 433), (433, 863)]:
    for y0, y1 in [(3, 210), (210, 416), (416, 622)]:
        fig.add_artist(Rectangle((x0 / FIG_W, 1 - y1 / FIG_H), (x1 - x0) / FIG_W,
                                 (y1 - y0) / FIG_H, transform=fig.transFigure,
                                 fill=False, ec=FRAME, lw=1.2))

fig.savefig("out.png", dpi=100, facecolor="white")
